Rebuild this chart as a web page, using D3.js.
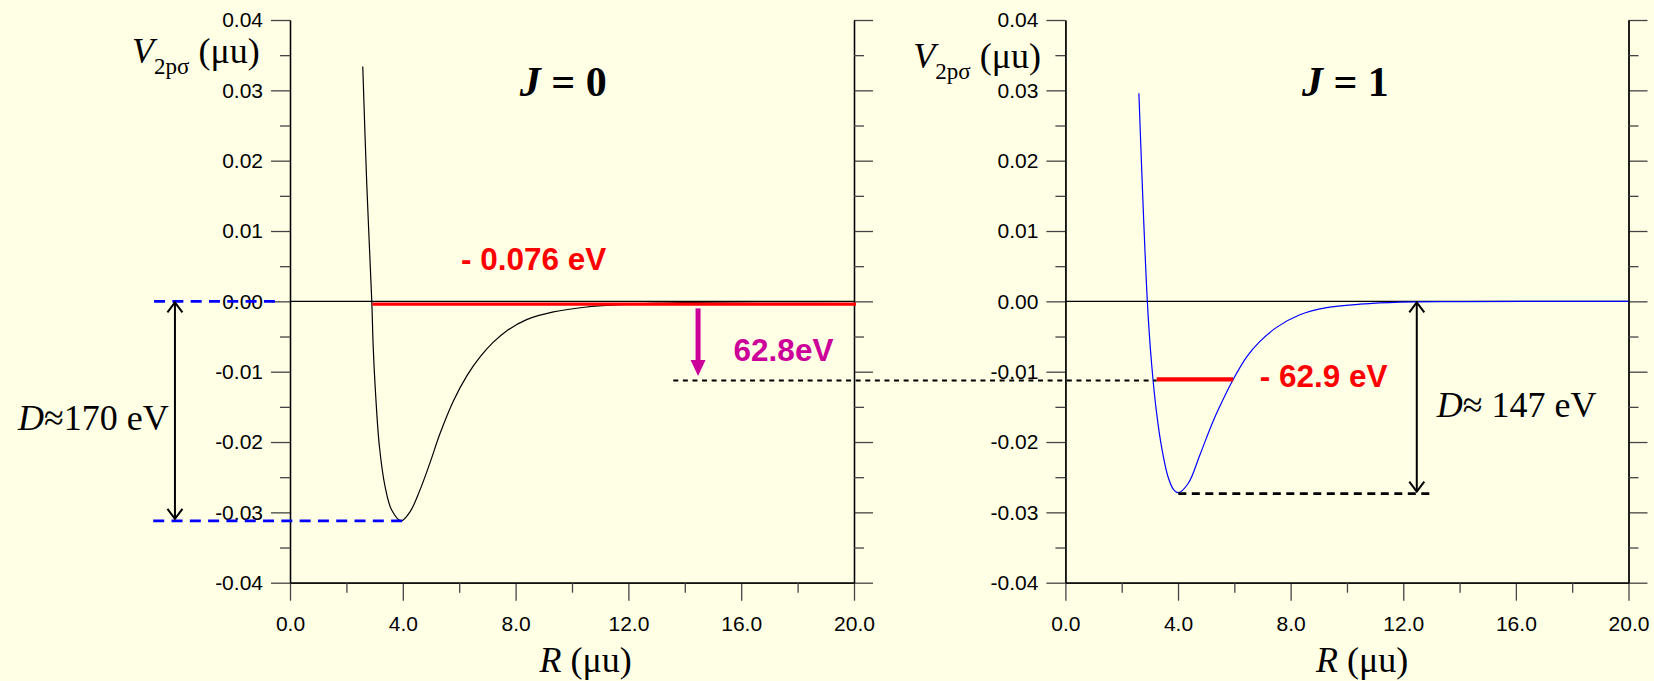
<!DOCTYPE html>
<meta charset="utf-8">
<script src="https://cdn.jsdelivr.net/npm/d3@7"></script>
<style>
  body { margin: 0; background: #ffffe6; }
  text { white-space: pre; }
</style>
<body>
<script>

var width = 1654
var height = 681

// V_2pσ(R) for J = 0 (black) and J = 1 (blue)
var r_j0 = [2.58, 2.72, 2.90, 2.95, 3.04, 3.17, 3.37, 3.61, 3.94, 4.26, 4.61, 4.96, 5.32, 5.79, 6.27, 6.74, 7.21, 7.68, 8.39, 9.34, 10.52, 11.7, 13.0, 15.0, 17.5, 20.0]
var v_j0 = [0.0334, 0.0169, 0.0, -0.0064, -0.0135, -0.0206, -0.0263, -0.0297, -0.0312, -0.0299, -0.0268, -0.0230, -0.0188, -0.0142, -0.0106, -0.0079, -0.0058, -0.0042, -0.0026, -0.0015, -0.0008, -0.00047, -0.00025, -0.0001, -0.00004, -0.00002]

var r_j1 = [2.61, 2.91, 3.06, 3.24, 3.42, 3.65, 3.85, 4.01, 4.36, 4.78, 5.25, 5.73, 5.96, 6.44, 6.91, 7.50, 8.33, 9.28, 10.46, 11.88, 14.0, 20.0]
var v_j1 = [0.0296, 0.0, -0.0088, -0.0159, -0.0208, -0.0250, -0.0268, -0.0272, -0.0259, -0.0218, -0.0170, -0.0129, -0.0111, -0.0079, -0.0057, -0.0037, -0.0019, -0.0009, -0.0004, -0.0001, -0.00003, 0.0]

// bound levels (drawn positions) and well depths
var level_j0 = -0.0004
var level_j1 = -0.0111
var turn_j0 = [2.92, 20.07]
var turn_j1 = [3.24, 5.96]
var min_j0 = -0.0312
var min_j1 = -0.0272

var yTicks = [-0.04, -0.03, -0.02, -0.01, 0.0, 0.01, 0.02, 0.03, 0.04]
var yMinor = [-0.035, -0.025, -0.015, -0.005, 0.005, 0.015, 0.025, 0.035]
var xTicks = [0, 4, 8, 12, 16, 20]
var xMinor = [2, 6, 10, 14, 18]

var serif = "'Liberation Serif', 'Times New Roman', serif"
var sans = "'Liberation Sans', Arial, sans-serif"
var magenta = "#cc0099"

var svg = d3.select("body").append("svg")
            .attr("width", width)
            .attr("height", height)
            .style("display", "block")
            .style("background", "#ffffe6")

var defs = svg.append("defs")
defs.append("marker")
    .attr("id", "chev")
    .attr("markerUnits", "userSpaceOnUse")
    .attr("viewBox", "-12 -9 14 18")
    .attr("markerWidth", 14).attr("markerHeight", 18)
    .attr("refX", 0).attr("refY", 0)
    .attr("orient", "auto-start-reverse")
  .append("path")
    .attr("d", "M-10,-7.5L0,0L-10,7.5")
    .attr("fill", "none").attr("stroke", "#000").attr("stroke-width", 2)

var y = d3.scaleLinear().domain([-0.04, 0.04]).range([582.7, 20])

function panel(x0, x1, r, v, color) {
  var x = d3.scaleLinear().domain([0, 20]).range([x0, x1])
  var g = svg.append("g")

  var fmt = function(d) { return d.toFixed(2) }
  var axes = [
    d3.axisLeft(y).tickValues(yTicks).tickSize(19).tickPadding(8).tickFormat(fmt),
    d3.axisLeft(y).tickValues(yMinor).tickSize(10).tickFormat(""),
  ]
  axes.forEach(function(a) {
    g.append("g").attr("transform", "translate(" + x0 + ",0)").call(a.tickSizeOuter(0))
  })
  ;[19, 10].forEach(function(s, i) {
    g.append("g").attr("transform", "translate(" + x1 + ",0)")
     .call(d3.axisRight(y).tickValues(i ? yMinor : yTicks).tickSize(s).tickSizeOuter(0).tickFormat(""))
  })
  g.append("g").attr("transform", "translate(0," + y(-0.04) + ")")
   .call(d3.axisBottom(x).tickValues(xTicks).tickSize(18).tickPadding(15).tickSizeOuter(0).tickFormat(function(d) { return d.toFixed(1) }))
  g.append("g").attr("transform", "translate(0," + y(-0.04) + ")")
   .call(d3.axisBottom(x).tickValues(xMinor).tickSize(10).tickSizeOuter(0).tickFormat(""))

  g.selectAll(".domain").attr("stroke", "#000").attr("stroke-width", 1.3)
  g.selectAll(".tick line").attr("stroke", "#444").attr("stroke-width", 1.3)
  g.selectAll(".tick text").attr("font-family", sans).attr("font-size", 21).attr("fill", "#000")

  // zero line
  g.append("line")
   .attr("x1", x(0)).attr("x2", x(20)).attr("y1", y(0)).attr("y2", y(0))
   .attr("stroke", "#000").attr("stroke-width", 1.2)

  var line = d3.line().x(function(d) { return x(d[0]) }).y(function(d) { return y(d[1]) }).curve(d3.curveCatmullRom.alpha(0.5))
  g.append("path")
   .attr("d", line(d3.zip(r, v)))
   .attr("fill", "none").attr("stroke", color).attr("stroke-width", 1.2)

  return { g: g, x: x }
}

var left = panel(290, 854, r_j0, v_j0, "#000")
var right = panel(1065.4, 1628.5, r_j1, v_j1, "#0000ff")

// axis titles
function yTitle(p, r0, base) {
  var t = p.g.append("text").attr("x", p.x(r0)).attr("y", base)
            .attr("font-family", serif).attr("font-size", 36).attr("fill", "#000")
  t.append("tspan").attr("font-style", "italic").text("V")
  t.append("tspan").attr("font-size", 23).attr("dy", 11).text("2pσ")
  t.append("tspan").attr("dy", -11).text(" (μu)")
}
function xTitle(p, r0) {
  var t = p.g.append("text").attr("x", p.x(r0)).attr("y", 672)
            .attr("font-family", serif).attr("font-size", 36).attr("fill", "#000")
  t.append("tspan").attr("font-style", "italic").text("R")
  t.append("tspan").text(" (μu)")
}
function jTitle(p, r0, label) {
  var t = p.g.append("text").attr("x", p.x(r0)).attr("y", 96)
            .attr("font-family", serif).attr("font-size", 42).attr("font-weight", "bold").attr("fill", "#000")
  t.append("tspan").attr("font-style", "italic").text("J")
  t.append("tspan").text(" = " + label)
}
yTitle(left, -5.6, 63)
yTitle(right, -5.4, 68)
xTitle(left, 8.85)
xTitle(right, 8.9)
jTitle(left, 8.15, "0")
jTitle(right, 8.4, "1")

// ---- J = 0 annotations
var L = left.x
// blue dashed guides at 0 and at the well minimum
left.g.append("line")
  .attr("x1", L(-4.82)).attr("x2", L(-0.46)).attr("y1", y(0)).attr("y2", y(0))
  .attr("stroke", "#0000ff").attr("stroke-width", 2.8).attr("stroke-dasharray", "11,7.3")
left.g.append("line")
  .attr("x1", L(-4.85)).attr("x2", L(4.12)).attr("y1", y(min_j0)).attr("y2", y(min_j0))
  .attr("stroke", "#0000ff").attr("stroke-width", 2.8).attr("stroke-dasharray", "11,7.3")
left.g.append("line")
  .attr("x1", L(-4.08)).attr("x2", L(-4.08)).attr("y1", y(0) + 1).attr("y2", y(min_j0) - 2)
  .attr("stroke", "#000").attr("stroke-width", 2)
  .attr("marker-start", "url(#chev)").attr("marker-end", "url(#chev)")
var d0 = left.g.append("text").attr("x", L(-4.3)).attr("y", 430).attr("text-anchor", "end")
  .attr("font-family", serif).attr("font-size", 36).attr("fill", "#000")
d0.append("tspan").attr("font-style", "italic").text("D")
d0.append("tspan").text("≈170 eV")

// weakly bound level
left.g.append("line")
  .attr("x1", L(turn_j0[0])).attr("x2", L(turn_j0[1])).attr("y1", y(level_j0)).attr("y2", y(level_j0))
  .attr("stroke", "#ff0000").attr("stroke-width", 3.2)
left.g.append("text").attr("x", L(6.06)).attr("y", 270)
  .attr("font-family", sans).attr("font-size", 31.5).attr("font-weight", "bold").attr("fill", "#ff0000")
  .text("- 0.076 eV")

// magenta arrow, 62.8 eV
var ax = L(14.47), ay0 = y(-0.001), ay1 = y(-0.0106)
left.g.append("line")
  .attr("x1", ax).attr("x2", ax).attr("y1", ay0).attr("y2", ay1 - 14)
  .attr("stroke", magenta).attr("stroke-width", 5)
left.g.append("path")
  .attr("d", "M" + (ax - 7.5) + "," + (ay1 - 16) + "L" + (ax + 7.5) + "," + (ay1 - 16) + "L" + ax + "," + ay1 + "Z")
  .attr("fill", magenta)
left.g.append("text").attr("x", L(15.73)).attr("y", 361)
  .attr("font-family", sans).attr("font-size", 31.5).attr("font-weight", "bold").attr("fill", magenta)
  .text("62.8eV")

// ---- J = 1 annotations
var R = right.x
// connecting dashed line at the J = 1 level
svg.append("line")
  .attr("x1", L(13.59)).attr("x2", R(turn_j1[0])).attr("y1", y(level_j1) + 1).attr("y2", y(level_j1) + 1)
  .attr("stroke", "#000").attr("stroke-width", 2).attr("stroke-dasharray", "5,4.6")
right.g.append("line")
  .attr("x1", R(turn_j1[0])).attr("x2", R(turn_j1[1])).attr("y1", y(level_j1)).attr("y2", y(level_j1))
  .attr("stroke", "#ff0000").attr("stroke-width", 4.2)
right.g.append("text").attr("x", R(6.9)).attr("y", 386.5)
  .attr("font-family", sans).attr("font-size", 31.5).attr("font-weight", "bold").attr("fill", "#ff0000")
  .text("- 62.9 eV")

right.g.append("line")
  .attr("x1", R(4.01)).attr("x2", R(12.96)).attr("y1", y(min_j1) + 1).attr("y2", y(min_j1) + 1)
  .attr("stroke", "#000").attr("stroke-width", 2.6).attr("stroke-dasharray", "8,5.5")
right.g.append("line")
  .attr("x1", R(12.48)).attr("x2", R(12.48)).attr("y1", y(0) + 1).attr("y2", y(min_j1) - 1)
  .attr("stroke", "#000").attr("stroke-width", 2)
  .attr("marker-start", "url(#chev)").attr("marker-end", "url(#chev)")
var d1 = right.g.append("text").attr("x", R(13.19)).attr("y", 416.5)
  .attr("font-family", serif).attr("font-size", 36).attr("fill", "#000")
d1.append("tspan").attr("font-style", "italic").text("D")
d1.append("tspan").text("≈ 147 eV")

</script>
</body>
